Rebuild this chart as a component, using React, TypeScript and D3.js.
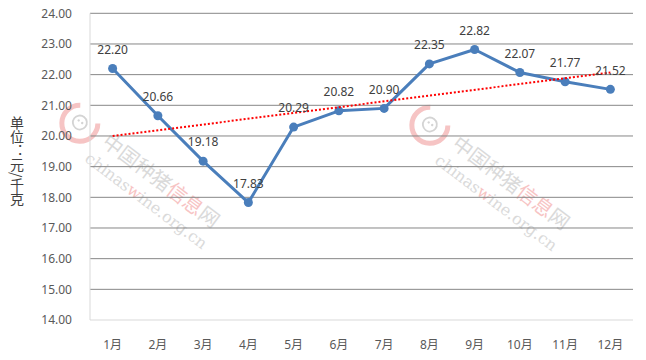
import React from "react";
import * as d3 from "d3";

const months = ["1月", "2月", "3月", "4月", "5月", "6月", "7月", "8月", "9月", "10月", "11月", "12月"];
const prices = [22.2, 20.66, 19.18, 17.83, 20.29, 20.82, 20.9, 22.35, 22.82, 22.07, 21.77, 21.52];
const yTicks = [14, 15, 16, 17, 18, 19, 20, 21, 22, 23, 24];
const yTitle = "单位：元/千克";

const W = 646;
const H = 360;
const font = "'Noto Sans', 'Noto Sans CJK SC', sans-serif";

// linear trend of the series (like excel's trendline)
function trend(vals: number[]) {
  const n = vals.length;
  const xm = (n + 1) / 2;
  const ym = d3.mean(vals) as number;
  let sxy = 0, sxx = 0;
  vals.forEach((v, i) => {
    sxy += (i + 1 - xm) * (v - ym);
    sxx += (i + 1 - xm) ** 2;
  });
  const k = sxy / sxx;
  return (x: number) => ym + k * (x - xm);
}

function Watermark({ x, y }: { x: number; y: number }) {
  return (
    <g transform={`translate(${x},${y}) rotate(37)`}>
      <g transform="translate(-40,2)">
        <path d="M -10 -14 A 18 18 0 1 0 15 -10" fill="none" stroke="#f6c4c4" strokeWidth={5} />
        <circle r={7} fill="none" stroke="#d4d4d4" strokeWidth={1.8} />
        <circle cx={-2.2} cy={-1} r={1.2} fill="#d4d4d4" />
        <circle cx={2.2} cy={-1} r={1.2} fill="#d4d4d4" />
      </g>
      <text x={-10} y={7} fontSize={20} fontFamily="'Noto Sans CJK SC', sans-serif" fill="#dadada">
        中国种猪<tspan fill="#f7c4c4">信息</tspan>网
      </text>
      <text x={-14} y={30} fontSize={16} fontFamily="'DejaVu Serif', serif" fill="#dadada">
        chinas<tspan fill="#f7c4c4">w</tspan>ine.org.cn
      </text>
    </g>
  );
}

export default function App() {
  const left = 90;
  const right = 633;
  const top = 13.3;
  const bottom = 320;

  const x = d3.scaleBand<string>().domain(months).range([left, right]);
  const cx = (m: string) => (x(m) as number) + x.bandwidth() / 2;
  const y = d3.scaleLinear().domain([14, 24]).range([bottom, top]);

  const line = d3
    .line<number>()
    .x((_, i) => cx(months[i]))
    .y((d) => y(d));

  const t = trend(prices);
  const trendPts: [number, number][] = [
    [cx(months[0]), y(t(1))],
    [cx(months[months.length - 1]), y(t(months.length))],
  ];

  return (
    <>
      <style>{"body{margin:0}"}</style>
      <svg width={W} height={H} style={{ display: "block", background: "#fff" }}>
        <Watermark x={113} y={145} />
        <Watermark x={463} y={147} />

        {yTicks.map((v) =>
          v === 14 ? null : (
            <line key={v} x1={left} x2={right} y1={y(v)} y2={y(v)} stroke="#878787" strokeWidth={1} />
          )
        )}
        <line x1={left} x2={left} y1={top} y2={bottom} stroke="#d9d9d9" />
        <line x1={left} x2={right} y1={bottom} y2={bottom} stroke="#d9d9d9" />

        {yTicks.map((v) => (
          <text
            key={v}
            x={72}
            y={y(v)}
            dy="0.35em"
            textAnchor="end"
            fontSize={12}
            fontFamily={font}
            fill="#595959"
          >
            {v.toFixed(2)}
          </text>
        ))}

        {months.map((m) => (
          <text key={m} x={cx(m)} y={345} dy="0.35em" textAnchor="middle" fontSize={12} fontFamily={font} fill="#595959">
            {m}
          </text>
        ))}

        <text
          x={17}
          y={116}
          fontSize={14}
          fontFamily="'Noto Sans CJK SC', sans-serif"
          fill="#404040"
          style={{ writingMode: "vertical-rl" }}
        >
          {yTitle}
        </text>

        <path d={line(prices) as string} fill="none" stroke="#4a7ebb" strokeWidth={3} strokeLinejoin="round" />
        {prices.map((v, i) => (
          <circle key={i} cx={cx(months[i])} cy={y(v)} r={4.5} fill="#4a7ebb" />
        ))}

        <line
          x1={trendPts[0][0]}
          y1={trendPts[0][1]}
          x2={trendPts[1][0]}
          y2={trendPts[1][1]}
          stroke="#ff0000"
          strokeWidth={2}
          strokeDasharray="2 2"
        />

        {prices.map((v, i) => (
          <text
            key={i}
            x={cx(months[i])}
            y={y(v) - 19}
            dy="0.35em"
            textAnchor="middle"
            fontSize={12}
            fontFamily={font}
            fill="#404040"
          >
            {v.toFixed(2)}
          </text>
        ))}
      </svg>
    </>
  );
}
